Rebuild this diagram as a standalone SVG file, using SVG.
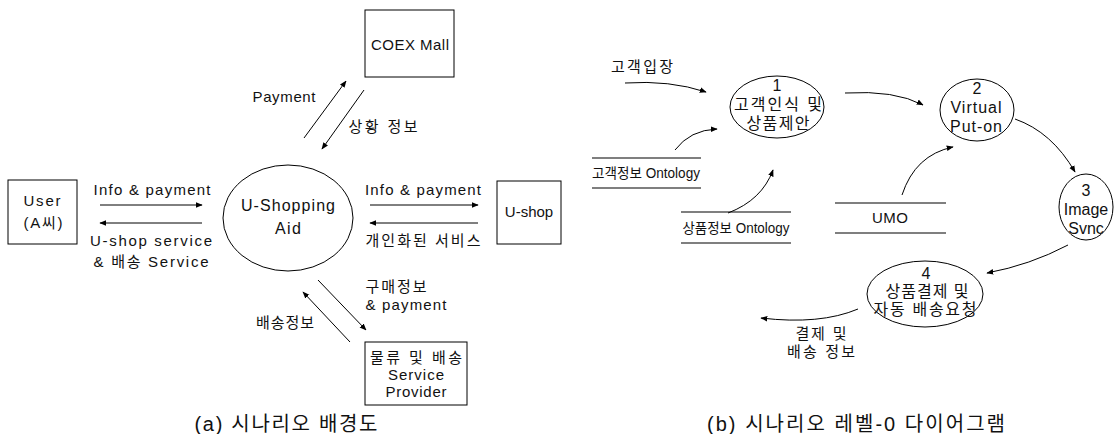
<svg xmlns="http://www.w3.org/2000/svg" width="1115" height="434" viewBox="0 0 1115 434">
<defs>
<marker id="ah" viewBox="0 0 10 10" refX="9" refY="5" markerWidth="7" markerHeight="7" markerUnits="userSpaceOnUse" orient="auto">
<path d="M0,1 L10,5 L0,9 Z" fill="#000"/>
</marker>
</defs>
<style>
text{font-family:"Liberation Sans","Noto Sans CJK KR",sans-serif;font-size:15px;fill:#111;text-anchor:middle}
.box{fill:#fff;stroke:#000;stroke-width:1}
.ell{fill:#fff;stroke:#000;stroke-width:1}
.ln{fill:none;stroke:#000;stroke-width:1;marker-end:url(#ah)}
.st{stroke:#000;stroke-width:1.2}
.cap{font-size:20px}
.on{font-size:14px}
.big{font-size:16px}
</style>
<rect width="1115" height="434" fill="#fff"/>
<g id="connectors">
<line class="ln" x1="304" y1="138" x2="346" y2="81"/>
<line class="ln" x1="364" y1="90" x2="322" y2="149"/>
<line class="ln" x1="100" y1="205" x2="202" y2="205"/>
<line class="ln" x1="202" y1="223" x2="100" y2="223"/>
<line class="ln" x1="370" y1="205" x2="478" y2="205"/>
<line class="ln" x1="478" y1="223" x2="370" y2="223"/>
<line class="ln" x1="318" y1="280" x2="366" y2="330"/>
<line class="ln" x1="350" y1="342" x2="303" y2="292"/>
<path class="ln" d="M625,83 Q670,80 706,92"/>
<path class="ln" d="M675,150 Q690,130 717,129"/>
<path class="ln" d="M728,213 Q762,200 773,170"/>
<path class="ln" d="M845,93 Q895,90 923,105"/>
<path class="ln" d="M902,195 Q915,155 953,147"/>
<path class="ln" d="M1015,119 Q1052,132 1075,172"/>
<path class="ln" d="M1068,245 Q1030,265 987,273"/>
<path class="ln" d="M858,309 Q820,325 761,318"/>
</g>
<g id="coex"><rect class="box" x="365" y="10" width="89" height="67"/><text x="410" y="50" textLength="78">COEX Mall</text></g>
<g id="user"><rect class="box" x="8" y="180" width="69" height="64"/><text x="42" y="206" textLength="37">User</text><text x="43" y="228" textLength="39">(A씨)</text></g>
<g id="ushopping-aid"><ellipse class="ell" cx="288" cy="218" rx="65" ry="53"/><text class="big" x="288" y="211" textLength="94">U-Shopping</text><text class="big" x="288" y="234" textLength="26">Aid</text></g>
<g id="ushop"><rect class="box" x="497" y="181" width="64" height="63"/><text x="529" y="217">U-shop</text></g>
<g id="logistics"><rect class="box" x="365" y="342" width="102" height="63"/><text x="416" y="363" textLength="92">물류 및 배송</text><text x="416" y="380" textLength="56">Service</text><text x="416" y="397" textLength="61">Provider</text></g>
<g id="labels-a">
<text x="284" y="102" textLength="63">Payment</text>
<text x="383" y="132" textLength="69">상황 정보</text>
<text x="152" y="195" textLength="117">Info &amp; payment</text>
<text x="151" y="246" textLength="122">U-shop service</text>
<text x="151" y="267" textLength="115">&amp; 배송 Service</text>
<text x="423" y="195" textLength="116">Info &amp; payment</text>
<text x="423" y="246" textLength="115">개인화된 서비스</text>
<text x="396" y="292" textLength="61">구매정보</text>
<text x="406" y="310" textLength="81">&amp; payment</text>
<text x="285" y="328" textLength="58">배송정보</text>
<text class="cap" x="286" y="431" textLength="183">(a) 시나리오 배경도</text>
</g>
<g id="p1"><ellipse class="ell" cx="777" cy="107" rx="47" ry="31"/><text class="big" x="777" y="91">1</text><text class="big" x="778" y="110" textLength="88">고객인식 및</text><text class="big" x="778" y="129" textLength="63">상품제안</text></g>
<g id="p2"><ellipse class="ell" cx="977" cy="110" rx="37" ry="31"/><text class="big" x="977" y="94">2</text><text class="big" x="976" y="113" textLength="51">Virtual</text><text class="big" x="976" y="132" textLength="52">Put-on</text></g>
<g id="p3"><ellipse class="ell" cx="1086" cy="207" rx="27" ry="33"/><text class="big" x="1086" y="196">3</text><text class="big" x="1086" y="215">Image</text><text class="big" x="1086" y="234">Svnc</text></g>
<g id="p4"><ellipse class="ell" cx="925" cy="294" rx="58" ry="33"/><text class="big" x="926" y="279">4</text><text class="big" x="927" y="297" textLength="83">상품결제 및</text><text class="big" x="925" y="315" textLength="103">자동 배송요청</text></g>
<g id="store-customer"><line class="st" x1="592" y1="158" x2="701" y2="158"/><line class="st" x1="592" y1="188" x2="701" y2="188"/><text class="on" x="646" y="178" textLength="108" lengthAdjust="spacingAndGlyphs">고객정보 Ontology</text></g>
<g id="store-product"><line class="st" x1="681" y1="212" x2="791" y2="212"/><line class="st" x1="681" y1="243" x2="791" y2="243"/><text class="on" x="736" y="233" textLength="107" lengthAdjust="spacingAndGlyphs">상품정보 Ontology</text></g>
<g id="store-umo"><line class="st" x1="835" y1="203" x2="946" y2="203"/><line class="st" x1="835" y1="233" x2="946" y2="233"/><text x="890" y="223" textLength="36">UMO</text></g>
<g id="labels-b">
<text x="642" y="72" textLength="62">고객입장</text>
<text x="821" y="339" textLength="51">결제 및</text>
<text x="821" y="357" textLength="68">배송 정보</text>
<text class="cap" x="856" y="431" textLength="298">(b) 시나리오 레벨-0 다이어그램</text>
</g>
</svg>
